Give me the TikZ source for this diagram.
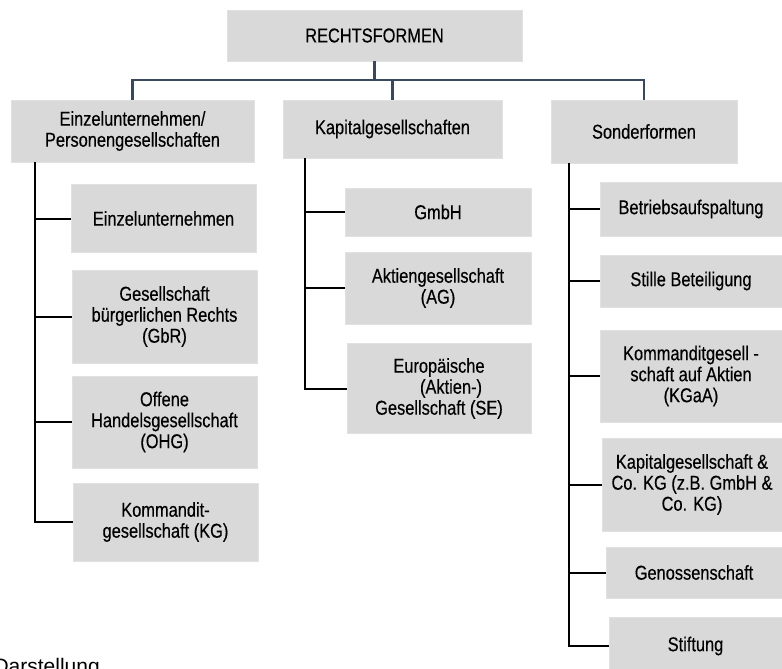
\documentclass[tikz,border=0pt]{standalone}
\usepackage{fontspec}
\setmainfont{Liberation Sans}[FakeStretch=0.82,FakeBold=0.35]
\newfontfamily\plainfont{Liberation Sans}
\usetikzlibrary{positioning,calc}
\definecolor{boxgray}{RGB}{217,217,217}
\definecolor{busblue}{RGB}{58,72,92}
\tikzset{box/.style={fill=boxgray,draw=boxgray!80!white,thin,align=center,inner sep=2pt,font=\fontsize{20}{21}\selectfont}}
\tikzset{bus/.style={busblue,line width=2.4pt}}
\tikzset{branch/.style={black,line width=2pt}}

\begin{document}
\begin{tikzpicture}[x=1pt,y=-1pt]
	\useasboundingbox (0,0) rectangle (782,669);
	%% top level
	\node[box,minimum width=295pt,minimum height=51pt] (top) at (374.5,35.5) {RECHTSFORMEN};
	\node[box,minimum width=243pt,minimum height=62pt] (grpE) at (132.5,131) {Einzelunternehmen/\\Personengesellschaften};
	\node[box,minimum width=219pt,minimum height=58pt] (grpK) at (392.5,129) {Kapitalgesellschaften};
	\node[box,minimum width=186pt,minimum height=63pt] (grpS) at (644,131.5) {Sonderformen};
	\coordinate (bus) at (top.south |- 0,80);
	\draw[bus] (top.south) -- (bus);
	\draw[bus] (bus) -| (grpE.north);
	\draw[bus] (bus) -| (grpK.north);
	\draw[bus] (bus) -| (grpS.north);
	%% Personengesellschaften
	\node[box,minimum width=185pt,minimum height=68pt] (e1) at (163.5,218.5) {Einzelunternehmen};
	\node[box,minimum width=185pt,minimum height=93pt] (e2) at (164.5,316.5) {Gesellschaft\\b\"urgerlichen Rechts\\(GbR)};
	\node[box,minimum width=185pt,minimum height=92pt] (e3) at (164.5,422) {Offene\\Handelsgesellschaft\\(OHG)};
	\node[box,minimum width=185pt,minimum height=78pt] (e4) at (165.5,522) {Kommandit-\\gesellschaft (KG)};
	\coordinate (spineE) at (grpE.south -| 35,0);
	\draw[branch] (spineE) |- (e4.west);
	\foreach \n in {e1,e2,e3}
		\draw[branch] (\n.west) -- (\n.west -| spineE);
	%% Kapitalgesellschaften
	\node[box,minimum width=186pt,minimum height=48pt] (k1) at (438,212) {GmbH};
	\node[box,minimum width=186pt,minimum height=72pt] (k2) at (438,288) {Aktiengesellschaft\\(AG)};
	\node[box,minimum width=184pt,minimum height=90pt] (k3) at (439,388.5) {Europ\"aische\\\hspace*{1.2em}(Aktien-)\\Gesellschaft (SE)};
	\coordinate (spineK) at (grpK.south -| 305,0);
	\draw[branch] (spineK) |- (k3.west);
	\foreach \n in {k1,k2}
		\draw[branch] (\n.west) -- (\n.west -| spineK);
	%% Sonderformen
	\node[box,minimum width=182pt,minimum height=54pt] (s1) at (691,209) {Betriebsaufspaltung};
	\node[box,minimum width=182pt,minimum height=52pt] (s2) at (691,281) {Stille Beteiligung};
	\node[box,minimum width=182pt,minimum height=92pt] (s3) at (691,376) {Kommanditgesell -\\schaft auf Aktien\\(KGaA)};
	\node[box,minimum width=180pt,minimum height=93pt] (s4) at (692,484.5) {Kapitalgesellschaft \&\\Co. KG (z.B. GmbH \&\\Co. KG)};
	\node[box,minimum width=176pt,minimum height=51pt] (s5) at (694,572.5) {Genossenschaft};
	\node[box,minimum width=173pt,minimum height=58pt] (s6) at (695.5,646) {Stiftung};
	\coordinate (spineS) at (grpS.south -| 569,0);
	\draw[branch] (spineS) |- (s6.west);
	\foreach \n in {s1,s2,s3,s4,s5}
		\draw[branch] (\n.west) -- (\n.west -| spineS);
	%% source line, cut off
	\node[anchor=base east,inner sep=0pt,font=\plainfont\fontsize{21}{23}\selectfont] (src) at (100,673) {Darstellung};
\end{tikzpicture}
\end{document}
